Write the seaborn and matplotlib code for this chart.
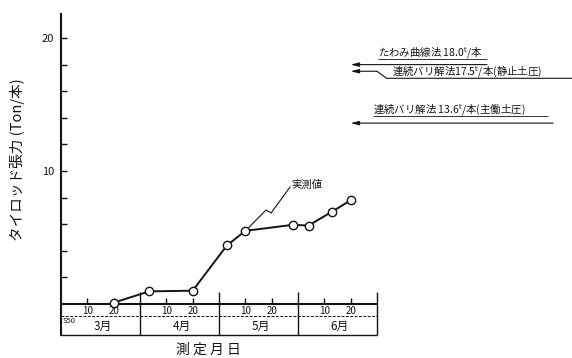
import numpy as np
import pandas as pd
import matplotlib
matplotlib.use("Agg")
import matplotlib.pyplot as plt
import seaborn as sns

# ---- data -------------------------------------------------------------
months = ["3月", "4月", "5月", "6月"]
month_day_ticks = [10, 20]
era_label = "S50"

# measured tie-rod tension (month index from March, day of month, Ton/本)
obs_month = [0, 1, 1, 2, 2, 2, 3, 3, 3]
obs_day = [20, 3.5, 20, 3, 10, 28, 4, 13, 20]
obs_tension = [0.1, 0.95, 1.0, 4.4, 5.5, 5.95, 5.9, 6.95, 7.8]

# design values from the calculation methods (Ton/本)
calc_values = [18.0, 17.5, 13.6]
calc_labels = [
    "たわみ曲線法 18.0$^{\\rm t}$/本",
    "連続バリ解法17.5$^{\\rm t}$/本(静止土圧)",
    "連続バリ解法 13.6$^{\\rm t}$/本(主働土圧)",
]

y_major = [10, 20]
y_minor_step = 2

# ---- layout -------------------------------------------------------------
DAYS = 30            # width of one month column on the time axis
X_END = DAYS * len(months)
PX_DAY = 2.633       # pixels per day
PX_TON = 13.3        # pixels per Ton
ink = "#141414"

sns.set_theme(style="white")
plt.rcParams["font.family"] = ["Noto Sans CJK JP", "DejaVu Sans"]
plt.rcParams["axes.unicode_minus"] = False

fig = plt.figure(figsize=(5.72, 3.58), dpi=100)
ax = fig.add_axes([61 / 572, 0, 511 / 572, 1])
ax.set_xlim(0, 511 / PX_DAY)
ax.set_ylim(-54 / PX_TON, 304 / PX_TON)
ax.set_facecolor("white")
fig.patch.set_facecolor("white")

df = pd.DataFrame({
    "day": np.array(obs_month) * DAYS + np.array(obs_day),
    "tension": obs_tension,
})

sns.lineplot(data=df, x="day", y="tension", ax=ax, color=ink, lw=1.4,
             marker="o", markersize=6, markerfacecolor="white",
             markeredgecolor=ink, markeredgewidth=1.0, zorder=5,
             sort=True, legend=False)

# ---- axes frame ---------------------------------------------------------
row_mid = -0.9
row_bot = -2.33
for s in ["top", "right"]:
    ax.spines[s].set_visible(False)
ax.spines["left"].set_bounds(row_bot, 21.8)
ax.spines["left"].set_linewidth(1.5)
ax.spines["left"].set_color(ink)
ax.spines["bottom"].set_position(("data", 0))
ax.spines["bottom"].set_bounds(0, X_END)
ax.spines["bottom"].set_linewidth(1.5)
ax.spines["bottom"].set_color(ink)

yt = np.arange(y_minor_step, y_major[-1] + 1, y_minor_step)
ax.set_yticks(yt)
ax.set_yticklabels([str(v) if v in y_major else "" for v in yt])
ax.tick_params(axis="y", direction="in", length=4.5, width=1.0, pad=5,
               labelsize=8, left=True, colors=ink)

xt = [m * DAYS + d for m in range(len(months)) for d in month_day_ticks]
ax.set_xticks(xt)
ax.set_xticklabels([str(d) for m in range(len(months)) for d in month_day_ticks])
ax.tick_params(axis="x", direction="in", length=4.3, width=1.0, pad=1.5,
               labelsize=7, bottom=True, colors=ink)

# month table under the time axis
ax.vlines([DAYS * (i + 1) for i in range(len(months))], row_bot, 0.9,
          color=ink, lw=1.0)
ax.hlines(row_mid, 0, X_END, color=ink, lw=0.7, ls=(0, (3, 1.5)))
ax.hlines(row_bot, 0, X_END, color=ink, lw=1.0)
for i, m in enumerate(months):
    ax.text(i * DAYS + DAYS / 2 + 0.8, -1.65, m, ha="center", va="center",
            fontsize=8.5, color=ink)
ax.text(0.6, -1.3, era_label, ha="left", va="center", fontsize=5.5, color=ink)

ax.set_ylabel("タイロッド張力 (Ton/本)", fontsize=10.5, color=ink)
ax.yaxis.set_label_coords(-44 / 511, (358 - 160) / 358)
ax.yaxis.label.set_va("center")
ax.set_xlabel("測 定 月 日", fontsize=10, color=ink)
ax.xaxis.set_label_coords((208 - 61) / 511, 8 / 358)
ax.xaxis.label.set_va("center")

# ---- "measured" leader ---------------------------------------------------
ax.plot([71.3, 77.9, 79.8, 87.0], [5.75, 7.07, 6.84, 8.8], color=ink, lw=0.8)
ax.text(87.4, 8.95, "実測値", ha="left", va="center", fontsize=7.5, color=ink)

# ---- design value arrows -------------------------------------------------
tip = obs_month[-1] * DAYS + obs_day[-1]
arrow = dict(arrowstyle="-|>,head_length=0.6,head_width=0.15", lw=0.8,
             color=ink, shrinkA=0, shrinkB=0, mutation_scale=8)

ax.annotate("", xy=(tip, calc_values[0]), xytext=(161.8, calc_values[0]),
            arrowprops=arrow)
ax.text(120.4, calc_values[0] + 0.85, calc_labels[0], ha="left", va="center",
        fontsize=7.5, color=ink)
ax.hlines(calc_values[0] + 0.45, 120.4, 161.8, color=ink, lw=0.6)

ax.plot([194, 123.7, 120.0], [calc_values[1] - 0.53, calc_values[1] - 0.53,
                              calc_values[1]], color=ink, lw=0.8)
ax.annotate("", xy=(tip, calc_values[1]), xytext=(120.0, calc_values[1]),
            arrowprops=arrow)
ax.text(125.7, calc_values[1] - 0.06, calc_labels[1], ha="left", va="center",
        fontsize=7.5, color=ink)

ax.annotate("", xy=(tip, calc_values[2]), xytext=(186.9, calc_values[2]),
            arrowprops=arrow)
ax.text(118.5, calc_values[2] + 0.95, calc_labels[2], ha="left", va="center",
        fontsize=7.5, color=ink)
ax.hlines(calc_values[2] + 0.54, 118.5, 185.0, color=ink, lw=0.6)

fig.savefig("out.png", dpi=100, facecolor="white")
